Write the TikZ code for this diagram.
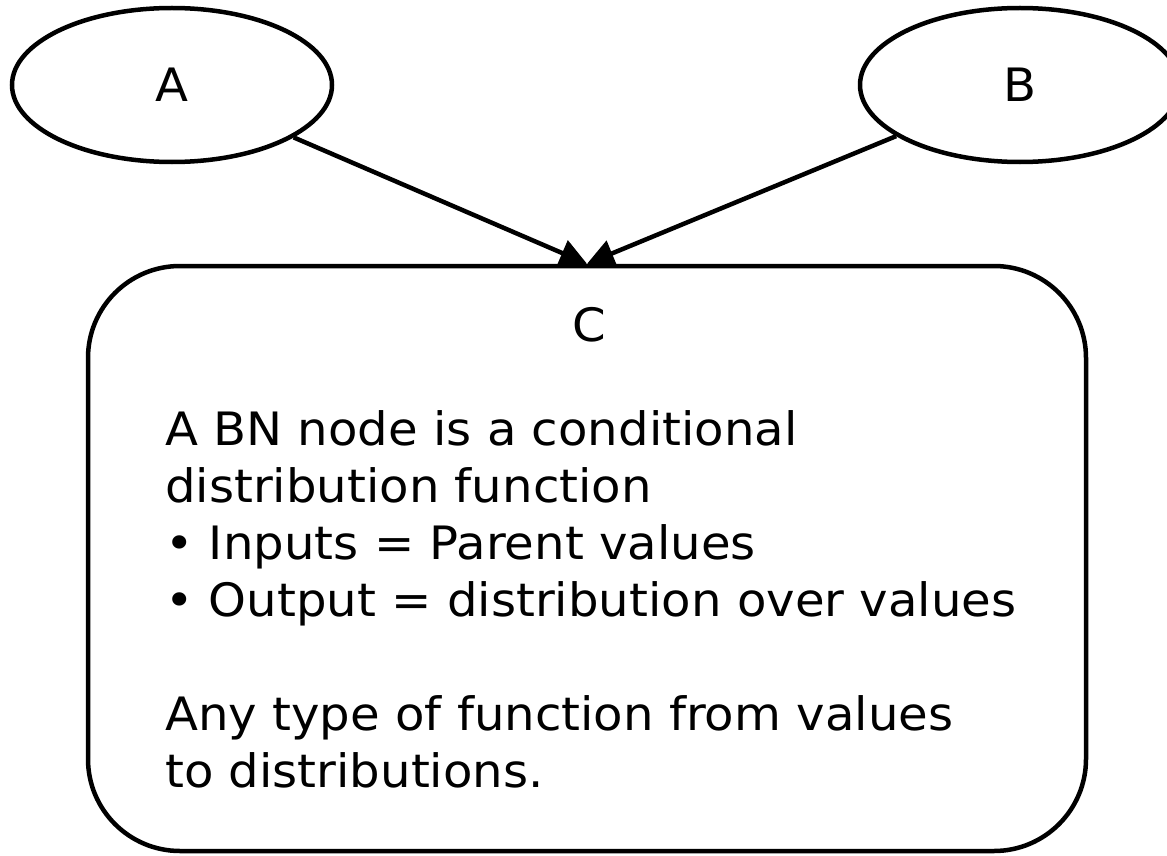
\documentclass[tikz,border=0pt]{standalone}
\usepackage{fontspec}
\setmainfont{DejaVu Sans}[FakeStretch=1.047]
\usetikzlibrary{shapes.geometric,arrows.meta}
\tikzset{
  bigfont/.style={font=\fontsize{46}{57}\selectfont},
  varnode/.style={ellipse, draw, line width=4.5pt, minimum width=320pt, minimum height=154pt, inner sep=0pt, bigfont},
  cpdbox/.style={rectangle, draw, line width=4.5pt, rounded corners=92pt, minimum width=998pt, minimum height=585pt, inner sep=0pt},
  link/.style={line width=4.5pt, -{Triangle[length=27pt,width=27pt]}},
}
\begin{document}
\begin{tikzpicture}[x=1pt,y=-1pt]
\useasboundingbox (0,0) rectangle (1167,856);
\node[varnode] (A) at (172,85) {A};
\node[varnode] (B) at (1020,85) {B};
\node[cpdbox] (C) at (587,558.5) {};
\node[bigfont, inner sep=0pt] (Ct) at (589,325) {C};
\node[bigfont, inner sep=0pt, anchor=north west, align=left] (Cb) at (165,410) {A BN node is a conditional\\distribution function\\• Inputs = Parent values\\• Output = distribution over values\\[57pt]Any type of function from values\\to distributions.};
\draw[link] (A) -- (C.north);
\draw[link] (B) -- (C.north);
\end{tikzpicture}
\end{document}
